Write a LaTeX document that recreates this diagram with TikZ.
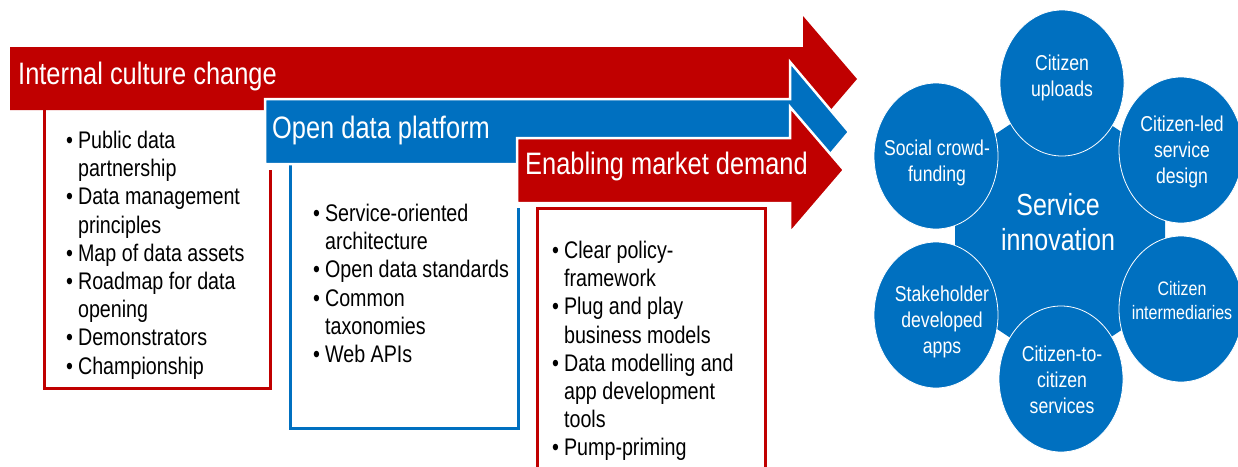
\documentclass[tikz,border=0pt]{standalone}
\usepackage{fontspec}
\setmainfont{Liberation Sans}[FakeStretch=0.82]
\usetikzlibrary{shapes.geometric}
\definecolor{rd}{HTML}{C00000}
\definecolor{bl}{HTML}{0070C0}
\begin{document}
\begin{tikzpicture}[x=1pt,y=-1pt,
  arrowshape/.style={draw=white,line width=2.5pt,line join=miter},
  boxline/.style={line width=3pt,line join=miter},
  header/.style={anchor=base west,inner sep=0pt,text=white,font=\fontsize{31}{36}\selectfont},
  blist/.style={anchor=north west,inner sep=0pt,font=\fontsize{24}{28.2}\selectfont},
  bubble/.style={ellipse,fill=bl,draw=white,line width=0.8pt,minimum width=124pt,minimum height=146pt,inner sep=0pt},
  blabel/.style={align=center,text=white,inner sep=0pt,font=\fontsize{21.5}{26}\selectfont}]
\useasboundingbox (0,0) rectangle (1238,466);
% boxes
\draw[boxline,rd] (270,170) -- (270,388) -- (44,388) -- (44,108);
\draw[boxline,bl] (518,208) -- (518,428) -- (290,428) -- (290,162);
\draw[boxline,rd] (537,480) -- (537,208) -- (765,208) -- (765,480);
% arrows
\fill[rd] (10,47) -- (803,47) -- (803,16) -- (857,79) -- (803,142) -- (803,110) -- (10,110) -- cycle;
\draw[arrowshape,fill=bl] (265,99) -- (790,99) -- (790,62) -- (849,132) -- (790,202) -- (790,164) -- (265,164) -- cycle;
\draw[arrowshape,fill=rd] (517,138) -- (790,138) -- (790,107) -- (844,170) -- (790,233) -- (790,203) -- (517,203) -- cycle;
% headers
\node[header] (h1) at (18,84) {Internal culture change};
\node[header] (h2) at (272,138) {Open data platform};
\node[header] (h3) at (525,174) {Enabling market demand};
% lists
\node[blist] (l1) at (66,128.5) {\begin{tabular}{@{}l@{\hspace{5pt}}l@{}}
\textbullet & Public data\\
 & partnership\\
\textbullet & Data management\\
 & principles\\
\textbullet & Map of data assets\\
\textbullet & Roadmap for data\\
 & opening\\
\textbullet & Demonstrators\\
\textbullet & Championship
\end{tabular}};
\node[blist] (l2) at (313,201.5) {\begin{tabular}{@{}l@{\hspace{5pt}}l@{}}
\textbullet & Service-oriented\\
 & architecture\\
\textbullet & Open data standards\\
\textbullet & Common\\
 & taxonomies\\
\textbullet & Web APIs
\end{tabular}};
\node[blist] (l3) at (552,238.5) {\begin{tabular}{@{}l@{\hspace{5pt}}l@{}}
\textbullet & Clear policy-\\
 & framework\\
\textbullet & Plug and play\\
 & business models\\
\textbullet & Data modelling and\\
 & app development\\
 & tools\\
\textbullet & Pump-priming
\end{tabular}};
% hub
\fill[bl] (1060,91) -- (1165,161) -- (1165,301) -- (1060,371) -- (955,301) -- (955,161) -- cycle;
\node[bubble] (b1) at (1062,83) {};
\node[bubble] (b2) at (1181,150) {};
\node[bubble] (b3) at (1181,309) {};
\node[bubble] (b4) at (1061,379) {};
\node[bubble] (b5) at (936,315) {};
\node[bubble] (b6) at (936,156) {};
\node[blabel,font=\fontsize{30.5}{35}\selectfont] (c) at (1058,222) {Service\\innovation};
\node[blabel] (t1) at (1062,78) {Citizen\\uploads};
\node[blabel] (t2) at (1182,152) {Citizen-led\\service\\design};
\node[blabel,font=\fontsize{19.5}{24}\selectfont] (t3) at (1182,301) {Citizen\\intermediaries};
\node[blabel] (t4) at (1062,380) {Citizen-to-\\citizen\\services};
\node[blabel] (t5) at (942,322) {Stakeholder\\developed\\apps};
\node[blabel] (t6) at (937,163) {Social crowd-\\funding};
\end{tikzpicture}
\end{document}
